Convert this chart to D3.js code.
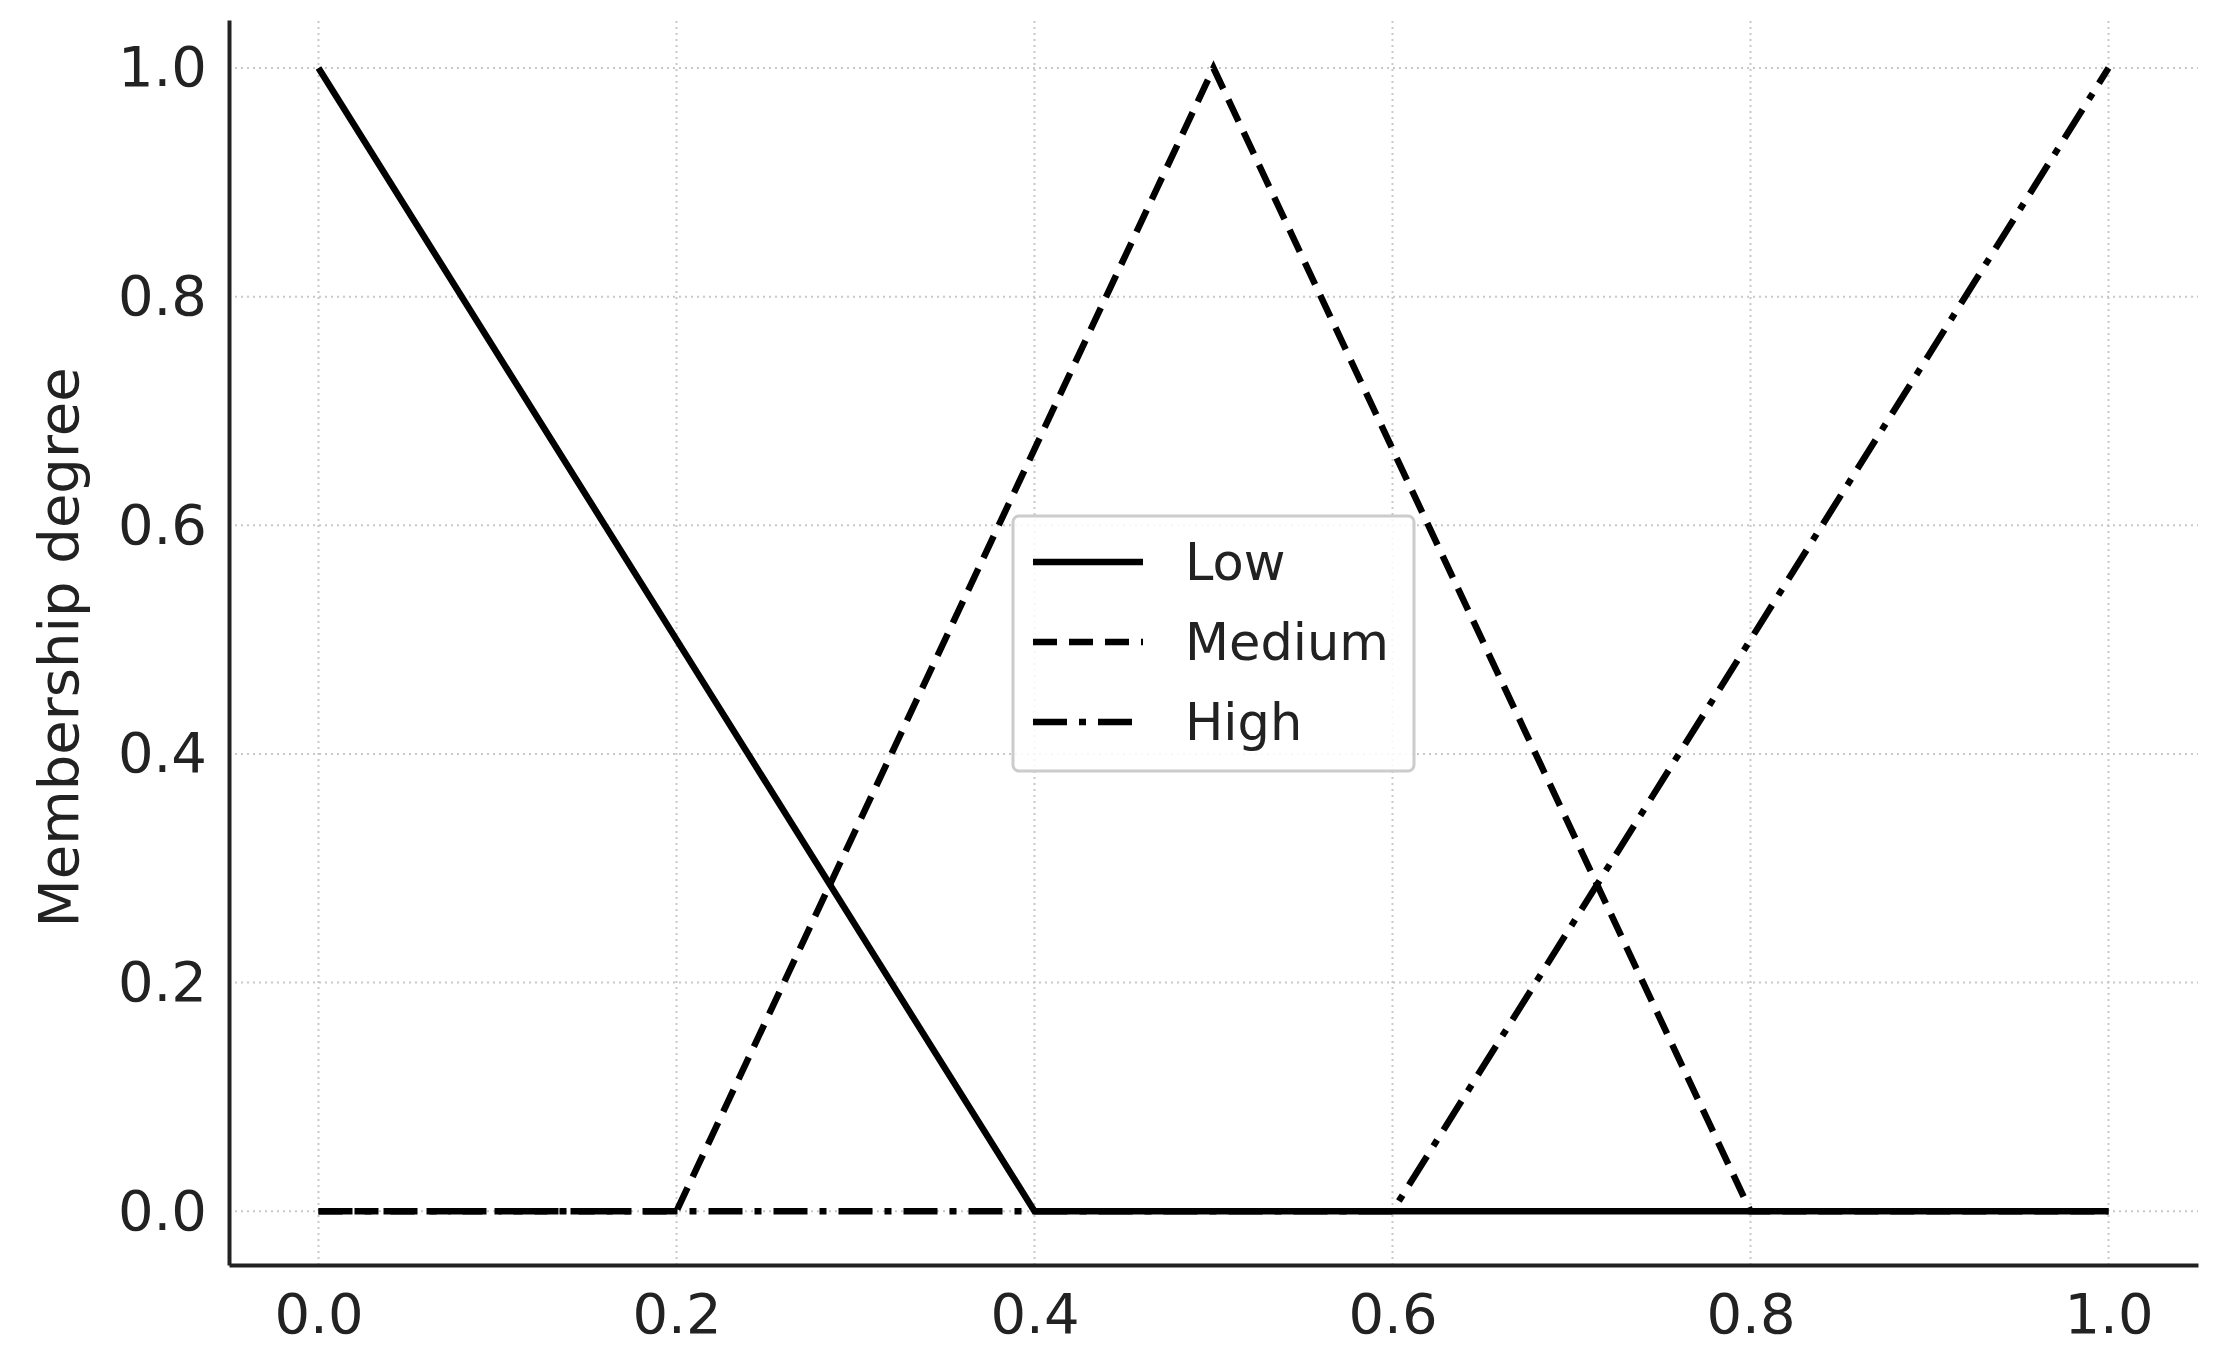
<!DOCTYPE html>
<html>
<head>
<meta charset="utf-8">
<script src="https://cdn.jsdelivr.net/npm/d3@7"></script>
<style>
  body { margin: 0; background: #fff; }
  text { font-family: "DejaVu Sans", sans-serif; fill: #222; }
</style>
</head>
<body>
<svg id="chart"></svg>
<script>
const xValues = [0, 0.2, 0.4, 0.5, 0.6, 0.8, 1.0];
const lowValues = [1, 0.5, 0, 0, 0, 0, 0];
const mediumValues = [0, 0, 0.6667, 1, 0.6667, 0, 0];
const highValues = [0, 0, 0, 0, 0, 0.5, 1];
const seriesNames = ['Low', 'Medium', 'High'];
const tickValues = [0, 0.2, 0.4, 0.6, 0.8, 1.0];

const W = 2221, H = 1365;
const m = {left: 229, right: 23, top: 20, bottom: 100};

const svg = d3.select('#chart').attr('width', W).attr('height', H);

const x = d3.scaleLinear().domain([-0.05, 1.05]).range([m.left, W - m.right]);
const y = d3.scaleLinear().domain([-0.047, 1.042]).range([H - m.bottom, m.top]);

// grid
const grid = svg.append('g');
tickValues.forEach(t => {
  grid.append('line').attr('x1', x(t)).attr('x2', x(t))
    .attr('y1', y.range()[0]).attr('y2', y.range()[1]);
  grid.append('line').attr('y1', y(t)).attr('y2', y(t))
    .attr('x1', x.range()[0]).attr('x2', x.range()[1]);
});
grid.selectAll('line').attr('stroke', '#c8c8c8').attr('stroke-width', 2)
  .attr('stroke-dasharray', '2,4');

// axes
const xAxis = svg.append('g').attr('transform', `translate(0,${H - m.bottom})`)
  .call(d3.axisBottom(x).tickValues(tickValues).tickFormat(d3.format('.1f')).tickSize(0).tickPadding(20));
const yAxis = svg.append('g').attr('transform', `translate(${m.left},0)`)
  .call(d3.axisLeft(y).tickValues(tickValues).tickFormat(d3.format('.1f')).tickSize(0).tickPadding(22));
[xAxis, yAxis].forEach(a => {
  a.select('.domain').attr('stroke', '#222').attr('stroke-width', 4);
  a.selectAll('text').style('font-size', '56px').style('font-family', '"DejaVu Sans", sans-serif').attr('fill', '#222');
});
xAxis.selectAll('text').attr('dy', '0.85em');

svg.append('text')
  .attr('transform', `translate(78,${(y.range()[0] + y.range()[1]) / 2 + 5}) rotate(-90)`)
  .attr('text-anchor', 'middle').style('font-size', '56px').text('Membership degree');

// lines
const series = [
  {name: seriesNames[0], values: lowValues, dash: null},
  {name: seriesNames[1], values: mediumValues, dash: '24,12'},
  {name: seriesNames[2], values: highValues, dash: '34,12,7,12'}
];
const line = d3.line().x(d => x(d[0])).y(d => y(d[1]));
series.forEach(s => {
  svg.append('path')
    .attr('d', line(xValues.map((v, i) => [v, s.values[i]])))
    .attr('fill', 'none').attr('stroke', '#000').attr('stroke-width', 6.5)
    .attr('stroke-dasharray', s.dash);
});

// legend
const lg = svg.append('g').attr('transform', 'translate(1013,516)');
lg.append('rect').attr('width', 401).attr('height', 255).attr('rx', 6)
  .attr('fill', 'rgba(255,255,255,0.85)').attr('stroke', '#ccc').attr('stroke-width', 3);
series.forEach((s, i) => {
  const yy = 46 + i * 80;
  lg.append('line').attr('x1', 20).attr('x2', 130).attr('y1', yy).attr('y2', yy)
    .attr('stroke', '#000').attr('stroke-width', 6.5).attr('stroke-dasharray', s.dash);
  lg.append('text').attr('x', 172).attr('y', yy).attr('dy', '0.35em')
    .style('font-size', '51px').attr('fill', '#333').text(s.name);
});
</script>
</body>
</html>
